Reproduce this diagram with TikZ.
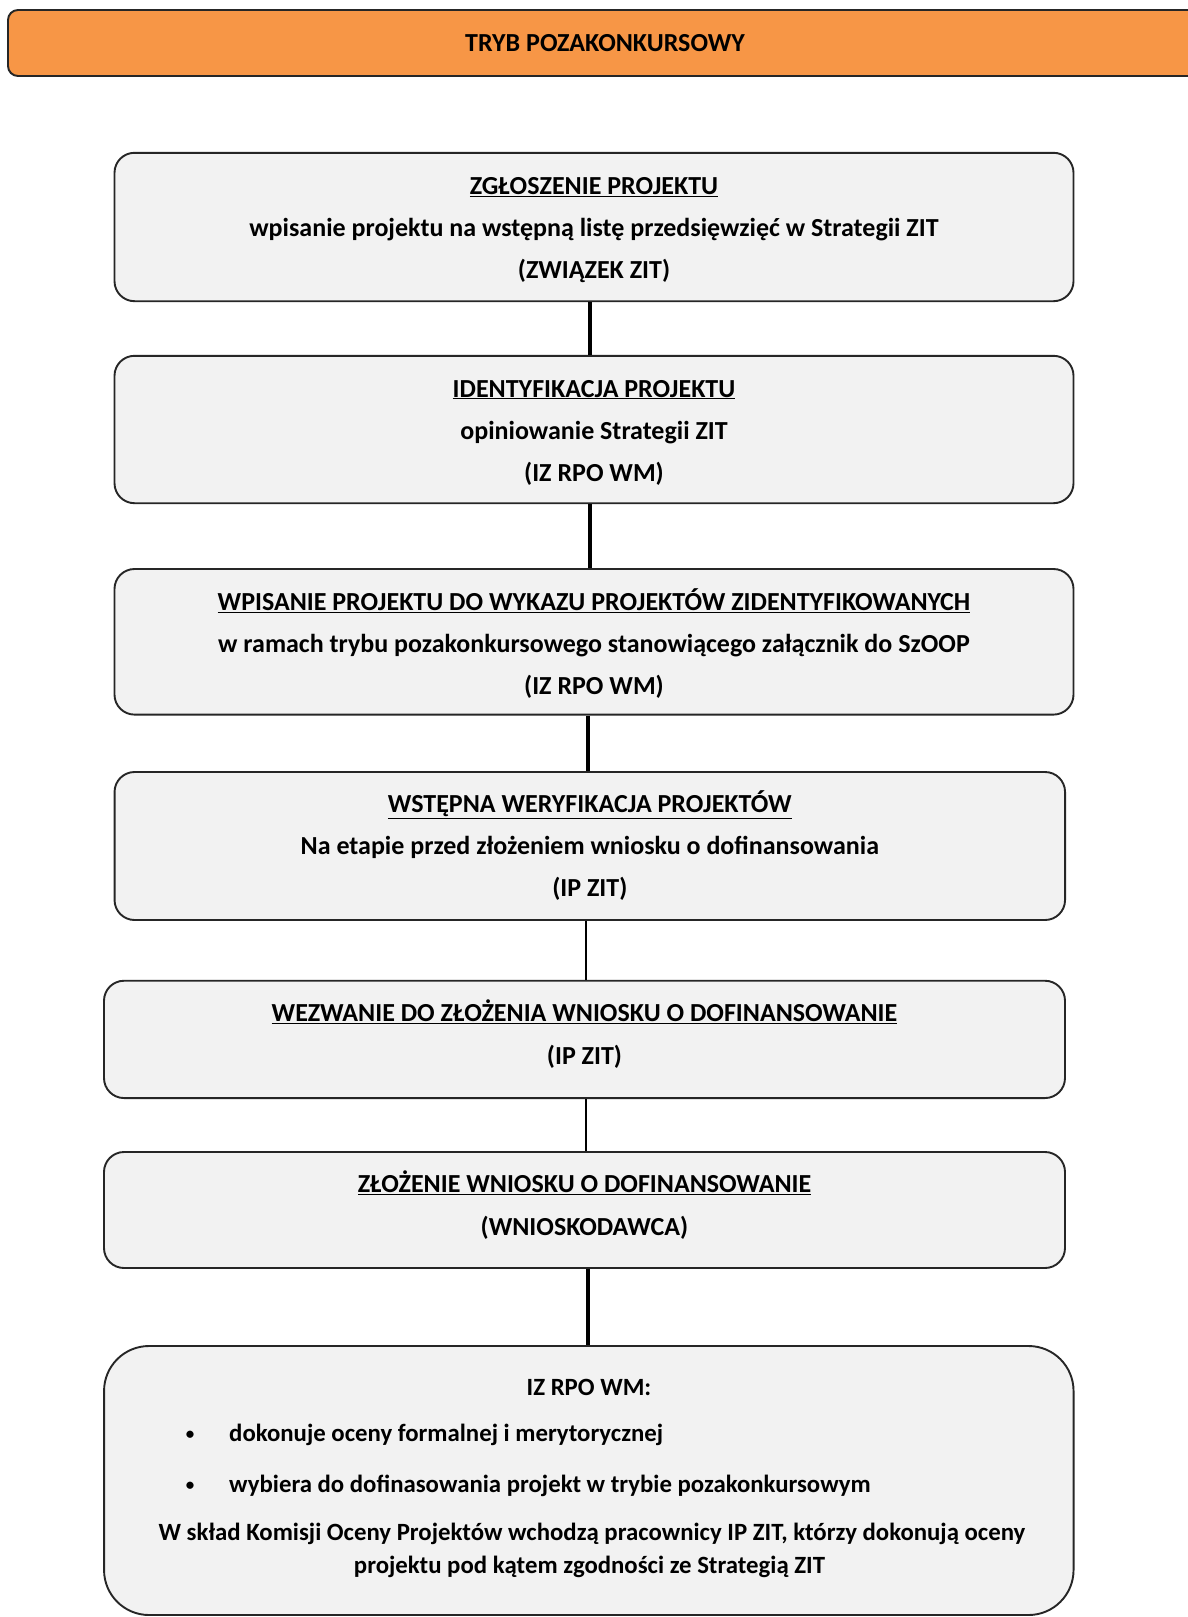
\documentclass[tikz,border=0pt]{standalone}
\usepackage{fontspec}
\setmainfont{Carlito}
\definecolor{boxfill}{HTML}{F2F2F2}
\definecolor{headfill}{HTML}{F79646}
\definecolor{bordc}{HTML}{262626}
\newcommand\bxfont{\fontsize{26}{42}\selectfont\bfseries}
\newcommand\lastfont{\fontsize{24.8}{42}\selectfont\bfseries}
\begin{document}
\begin{tikzpicture}[x=1pt,y=-1pt,
  box/.style={draw=bordc, fill=boxfill, line width=1.9pt, rounded corners=20pt, inner sep=0pt},
  btxt/.style={inner sep=0pt, align=center, font=\bxfont},
  txt/.style={inner sep=0pt, font=\lastfont},
  dotstyle/.style={inner sep=0pt, font=\fontsize{17}{20}\selectfont\bfseries},
  conn/.style={line width=3.4pt, draw=black},
  connthin/.style={line width=2pt, draw=black}]
\useasboundingbox (0,0) rectangle (1188,1617);
\fill[white] (0,0) rectangle (1188,1617);
\clip (0,0) rectangle (1188,1617);

\node[box, fill=headfill, rounded corners=10pt, minimum width=1194pt, minimum height=66pt, font=\bxfont] (head) at (605,43) {TRYB POZAKONKURSOWY};

\node[box, minimum width=959pt, minimum height=148.4pt] (b1) at (594,227) {};
\node[btxt] (b1t) at ([yshift=-3pt]b1.center)
  {\underline{ZGŁOSZENIE PROJEKTU}\\wpisanie projektu na wstępną listę przedsięwzięć w Strategii ZIT\\(ZWIĄZEK ZIT)};
\node[box, minimum width=959pt, minimum height=147.4pt] (b2) at (594,429.5) {};
\node[btxt] (b2t) at ([yshift=-3pt]b2.center)
  {\underline{IDENTYFIKACJA PROJEKTU}\\opiniowanie Strategii ZIT\\(IZ RPO WM)};
\node[box, minimum width=959pt, minimum height=145.6pt] (b3) at (594,641.8) {};
\node[btxt] (b3t) at ([yshift=-2pt]b3.center)
  {\underline{WPISANIE PROJEKTU DO WYKAZU PROJEKTÓW ZIDENTYFIKOWANYCH}\\w ramach trybu pozakonkursowego stanowiącego załącznik do SzOOP\\(IZ RPO WM)};
\node[box, minimum width=950.5pt, minimum height=148pt] (b4) at (589.8,846) {};
\node[btxt] (b4t) at (b4.center)
  {\underline{WSTĘPNA WERYFIKACJA PROJEKTÓW}\\Na etapie przed złożeniem wniosku o dofinansowania\\(IP ZIT)};
\node[box, minimum width=961pt, minimum height=117.3pt] (b5) at (584.5,1039.4) {};
\node[btxt] (b5t) at ([yshift=5pt]b5.center)
  {\underline{WEZWANIE DO ZŁOŻENIA WNIOSKU O DOFINANSOWANIE}\\[1pt](IP ZIT)};
\node[box, minimum width=961pt, minimum height=116pt] (b6) at (584.5,1210) {};
\node[btxt] (b6t) at ([yshift=5pt]b6.center)
  {\underline{ZŁOŻENIE WNIOSKU O DOFINANSOWANIE}\\[1pt](WNIOSKODAWCA)};
\node[box, rounded corners=45pt, minimum width=969.5pt, minimum height=269pt] (b7) at (588.8,1480.5) {};

\node[txt] (b7a) at (589,1387) {IZ RPO WM:};
\node[dotstyle] (dot1) at (190,1435) {•};
\node[txt, anchor=west] (b7b) at (229,1435) {dokonuje oceny formalnej i merytorycznej};
\node[dotstyle] (dot2) at (190,1486) {•};
\node[txt, anchor=west] (b7c) at (229,1486) {wybiera do dofinasowania projekt w trybie pozakonkursowym};
\node[txt] (b7d) at (592,1534) {W skład Komisji Oceny Projektów wchodzą pracownicy IP ZIT, którzy dokonują oceny};
\node[txt] (b7e) at (589.5,1567) {projektu pod kątem zgodności ze Strategią ZIT};

\draw[conn] (b1.south) ++(-4,0) coordinate (c1) -- (c1 |- b2.north);
\draw[conn] (b2.south) ++(-4,0) coordinate (c2) -- (c2 |- b3.north);
\draw[conn] (b3.south) ++(-6,0) coordinate (c3) -- (c3 |- b4.north);
\draw[connthin] (b4.south) ++(-3.8,0) coordinate (c4) -- (c4 |- b5.north);
\draw[connthin] (b5.south) ++(1.5,0) coordinate (c5) -- (c5 |- b6.north);
\draw[conn] (b6.south) ++(3.5,0) coordinate (c6) -- (c6 |- b7.north);
\end{tikzpicture}
\end{document}
